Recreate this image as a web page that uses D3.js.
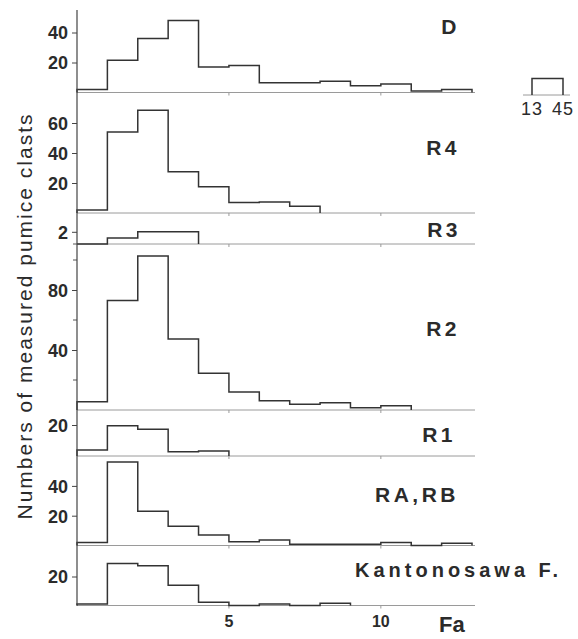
<!DOCTYPE html>
<html lang="en">
  <head>
    <meta charset="UTF-8" />
    <title>pumice clasts histograms</title>
    <script src="https://d3js.org/d3.v7.min.js" charset="utf-8"></script>
    <style>
      body { margin: 0; background: #fff; }
      text { font-family: "Liberation Sans", Arial, sans-serif; fill: #2b2b2b; }
    </style>
  </head>
  <body>
    <div id="chart"></div>
    <script>
      // bin edges on the Fa axis (bins are 1 unit wide)
      const faEdges = [0, 1, 2, 3, 4, 5, 6, 7, 8, 9, 10, 11, 12, 13];
      const xTicks = [5, 10];

      const units = ["D", "R4", "R3", "R2", "R1", "RA,RB", "Kantonosawa F."];

      // counts per bin
      const countsD = [2, 21.5, 36, 48, 17, 18, 6.5, 6.5, 7.5, 4.5, 5.7, 1, 2];
      const countsR4 = [2, 54, 68.5, 27.5, 17.5, 7, 7.3, 4.5];
      const countsR3 = [0, 1, 2, 2];
      const countsR2 = [5.5, 73, 102.7, 47.3, 24.5, 12, 6.2, 3.8, 4.9, 1.5, 2.9];
      const countsR1 = [3.9, 19.5, 17.2, 2.8, 3.2];
      const countsRARB = [2, 56, 23, 13, 7, 2.5, 3.7, 0.8, 0.8, 0.8, 2, 0, 1.5];
      const countsKant = [1, 29, 27.5, 14, 2.2, 0, 1, 0, 1.5];

      // y tick labels and unlabeled minor ticks for each unit
      const ticksD = [20, 40];
      const ticksR4 = [20, 40, 60];
      const ticksR3 = [2];
      const ticksR2 = [40, 80];
      const ticksR1 = [20];
      const ticksRARB = [20, 40];
      const ticksKant = [20];
      const minorR2 = [20, 60, 100];
      const minorR3 = [0];

      // outlier bar for D drawn as an inset (13 to 45)
      const insetRange = [13, 45];
      const insetCount = 11;

      const series = [countsD, countsR4, countsR3, countsR2, countsR1, countsRARB, countsKant];
      const tickSets = [ticksD, ticksR4, ticksR3, ticksR2, ticksR1, ticksRARB, ticksKant];
      const minorSets = [[], [], minorR3, minorR2, [], [], []];

      const width = 578;
      const height = 639;

      // baseline pixel and pixels per count for each panel
      const layout = [
        { base: 92.5, k: 1.5, lx: 460, ly: 34, anchor: "end" },
        { base: 213, k: 1.5, lx: 460, ly: 155, anchor: "end" },
        { base: 244, k: 6.1, lx: 461, ly: 237, anchor: "end" },
        { base: 410, k: 1.5, lx: 460, ly: 336, anchor: "end" },
        { base: 456, k: 1.55, lx: 456, ly: 442, anchor: "end" },
        { base: 545.5, k: 1.49, lx: 459, ly: 502, anchor: "end" },
        { base: 605.5, k: 1.45, lx: 355, ly: 577, anchor: "start" }
      ];

      const x = d3.scaleLinear().domain([0, 13]).range([77, 472]);

      const svg = d3
        .select("#chart")
        .append("svg")
        .attr("width", width)
        .attr("height", height);

      series.forEach((counts, p) => {
        const L = layout[p];
        const yMax = d3.max(counts.concat(tickSets[p]));
        const y = d3
          .scaleLinear()
          .domain([0, yMax])
          .range([L.base, L.base - yMax * L.k]);

        const g = svg.append("g");

        // grey baseline with small ticks at 5 and 10
        g.append("line")
          .attr("x1", x(0))
          .attr("x2", x(13) + 3)
          .attr("y1", y(0))
          .attr("y2", y(0))
          .style("stroke", "#9a9a9a")
          .style("stroke-width", 1);
        g.selectAll(".bt")
          .data(xTicks)
          .enter()
          .append("line")
          .attr("x1", d => x(d))
          .attr("x2", d => x(d))
          .attr("y1", y(0))
          .attr("y2", y(0) + 3)
          .style("stroke", "#9a9a9a");

        // y axis ticks
        const axis = d3
          .axisLeft(y)
          .tickValues(tickSets[p])
          .tickSize(5)
          .tickPadding(4)
          .tickFormat(d3.format("d"));
        const ag = g
          .append("g")
          .attr("transform", "translate(" + x(0) + ",0)")
          .call(axis);
        ag.select(".domain").remove();
        ag.selectAll("line").style("stroke", "#444");
        ag.selectAll("text")
          .style("font-size", "18px")
          .style("font-weight", "bold")
          .style("fill", "#2b2b2b")
          .attr("dy", "0.36em");

        g.selectAll(".minor")
          .data(minorSets[p])
          .enter()
          .append("line")
          .attr("x1", x(0) - 4)
          .attr("x2", x(0))
          .attr("y1", d => y(d))
          .attr("y2", d => y(d))
          .style("stroke", "#555");

        // histogram outline
        const pts = [[0, 0]];
        counts.forEach((v, i) => {
          pts.push([faEdges[i], v]);
          pts.push([faEdges[i + 1], v]);
        });
        pts.push([faEdges[counts.length], 0]);

        g.append("path")
          .datum(pts)
          .attr(
            "d",
            d3
              .line()
              .x(d => x(d[0]))
              .y(d => y(d[1]))
          )
          .style("fill", "none")
          .style("stroke", "#333")
          .style("stroke-width", 1.5);

        g.append("text")
          .attr("x", L.lx)
          .attr("y", L.ly)
          .attr("text-anchor", L.anchor)
          .style("font-size", p === 6 ? "20px" : "21px")
          .style("font-weight", "bold")
          .style("letter-spacing", p === 6 ? "4px" : "3.5px")
          .text(units[p]);

        // inset for the wide D bin
        if (p === 0) {
          const xi = d3.scaleLinear().domain(insetRange).range([532, 563]);
          const yi = d3.scaleLinear().domain([0, insetCount]).range([95, 95 - insetCount * 1.5]);
          g.append("line")
            .attr("x1", xi(insetRange[0]) - 9)
            .attr("x2", xi(insetRange[1]) + 7)
            .attr("y1", yi(0))
            .attr("y2", yi(0))
            .style("stroke", "#9a9a9a");
          g.append("path")
            .datum([[insetRange[0], 0], [insetRange[0], insetCount], [insetRange[1], insetCount], [insetRange[1], 0]])
            .attr("d", d3.line().x(d => xi(d[0])).y(d => yi(d[1])))
            .style("fill", "none")
            .style("stroke", "#333")
            .style("stroke-width", 1.5);
          g.selectAll(".il")
            .data(insetRange)
            .enter()
            .append("text")
            .attr("x", d => xi(d))
            .attr("y", 115)
            .attr("text-anchor", "middle")
            .style("font-size", "18px")
            .style("letter-spacing", "1px")
            .text(d => d);
        }
      });

      // continuous y axis line
      svg.append("line")
        .attr("x1", x(0))
        .attr("x2", x(0))
        .attr("y1", 10)
        .attr("y2", layout[6].base)
        .style("stroke", "#444")
        .style("stroke-width", 1.2);

      // x tick labels
      svg.selectAll(".xl")
        .data(xTicks)
        .enter()
        .append("text")
        .attr("x", d => x(d))
        .attr("y", 627)
        .attr("text-anchor", "middle")
        .style("font-size", "16px")
        .style("font-weight", "bold")
        .text(d => d);

      svg.append("text")
        .attr("x", 439)
        .attr("y", 632)
        .style("font-size", "22px")
        .style("font-weight", "bold")
        .text("Fa");

      svg.append("text")
        .attr("transform", "translate(32,317) rotate(-90)")
        .attr("text-anchor", "middle")
        .attr("textLength", 405)
        .attr("lengthAdjust", "spacing")
        .style("font-size", "21px")
        .text("Numbers of measured pumice clasts");
    </script>
  </body>
</html>
